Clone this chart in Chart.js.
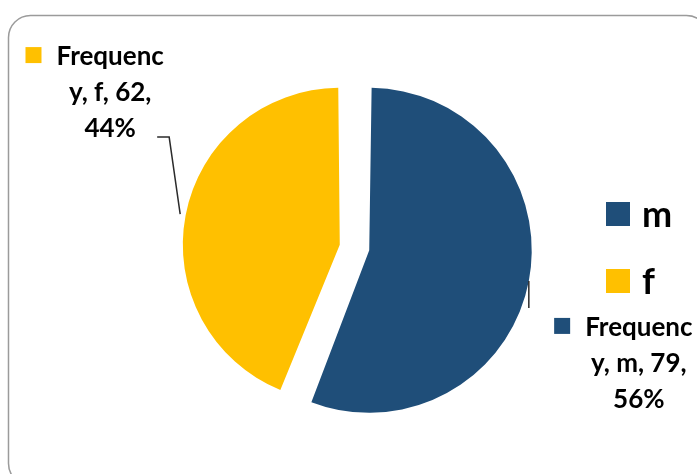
<!DOCTYPE html>
<html>
<head>
<meta charset="utf-8">
<script src="https://cdn.jsdelivr.net/npm/chart.js@4/dist/chart.umd.min.js"></script>
<style>
    body { margin: 0; background: #fff; }
    #box { position: relative; width: 697px; height: 474px; }
</style>
</head>
<body>
<div id="box"><canvas id="pieFreq"></canvas></div>
<script>
// dados do grafico de pizza
const categorias = ['m', 'f'];
const frequencias = [79, 62];
const cores = ['#1F4E79', '#FFC000'];
const nomeSerie = 'Frequency';

const fonte = "'Lato', 'Open Sans', sans-serif";
// o Chart.js desloca a fatia em offset / 4 px (e aumenta o raio no mesmo tanto)
const deslocamento = 60;

// quebra o texto como o Excel: por palavra e, se nao couber, por letra
function quebrarTexto(ctx, texto, maxW) {
    const linhas = [];
    let linha = '';
    for (const palavra of texto.split(' ')) {
        const teste = linha ? linha + ' ' + palavra : palavra;
        if (ctx.measureText(teste).width <= maxW) {
            linha = teste;
            continue;
        }
        if (linha) {
            linhas.push(linha);
            linha = '';
        }
        let resto = palavra;
        while (ctx.measureText(resto).width > maxW) {
            let i = resto.length;
            while (i > 1 && ctx.measureText(resto.slice(0, i)).width > maxW) i--;
            linhas.push(resto.slice(0, i));
            resto = resto.slice(i);
        }
        linha = resto;
    }
    if (linha) linhas.push(linha);
    return linhas;
}

// moldura arredondada em volta do grafico
const moldura = {
    id: 'moldura',
    beforeDraw(chart) {
        const ctx = chart.ctx;
        ctx.save();
        ctx.strokeStyle = '#9b9b9b';
        ctx.lineWidth = 1.5;
        ctx.beginPath();
        ctx.roundRect(8.5, 15.5, 700, 470, 22);
        ctx.stroke();
        ctx.restore();
    }
};

// legenda a direita (quadrado grande + nome)
const legendaDireita = {
    id: 'legendaDireita',
    afterDraw(chart, args, opts) {
        const ctx = chart.ctx;
        const ds = chart.data.datasets[0];
        ctx.save();
        ctx.font = 'bold ' + opts.fontSize + 'px ' + fonte;
        ctx.textBaseline = 'middle';
        chart.data.labels.forEach((lab, i) => {
            const y = opts.y + i * opts.step;
            ctx.fillStyle = ds.backgroundColor[i];
            ctx.fillRect(opts.x, y - opts.box / 2, opts.box, opts.box);
            ctx.fillStyle = '#000';
            ctx.fillText(lab, opts.x + opts.box + 12, y + 1);
        });
        ctx.restore();
    }
};

// rotulos de dados com linha guia, ancorados no meio do arco
const rotulos = {
    id: 'rotulos',
    afterDatasetsDraw(chart, args, opts) {
        const ctx = chart.ctx;
        const meta = chart.getDatasetMeta(0);
        const ds = chart.data.datasets[0];
        const total = ds.data.reduce((a, b) => a + b, 0);
        ctx.save();
        ctx.font = 'bold ' + opts.fontSize + 'px ' + fonte;
        meta.data.forEach((arc, i) => {
            const p = arc.getProps(['x', 'y', 'startAngle', 'endAngle', 'outerRadius'], true);
            const meio = (p.startAngle + p.endAngle) / 2;
            // borda de fora da fatia: deslocamento + raio extra
            const r = p.outerRadius + (arc.options.offset || 0) / 2;
            const ax = p.x + Math.cos(meio) * r;
            const ay = p.y + Math.sin(meio) * r;
            const pos = opts.posicoes[i];

            // linha guia
            ctx.strokeStyle = '#2b2b2b';
            ctx.lineWidth = 1.5;
            ctx.beginPath();
            ctx.moveTo(ax, ay);
            ctx.lineTo(ax + pos.cotovelo[0], ay + pos.cotovelo[1]);
            if (pos.fim) ctx.lineTo(ax + pos.fim[0], ay + pos.fim[1]);
            ctx.stroke();

            // texto
            const valor = ds.data[i];
            const pct = Math.round(valor / total * 100);
            const texto = ds.label + ', ' + chart.data.labels[i] + ', ' + valor + ', ' + pct + '%';
            const linhas = quebrarTexto(ctx, texto, opts.larguraMax);
            const cx = ax + pos.texto[0];
            const y0 = ay + pos.texto[1];
            ctx.textAlign = 'center';
            ctx.textBaseline = 'alphabetic';
            ctx.fillStyle = '#000';
            linhas.forEach((l, k) => {
                ctx.fillText(l, cx, y0 + k * opts.entreLinhas);
            });
            // chave da legenda antes da primeira linha
            const w0 = ctx.measureText(linhas[0]).width;
            ctx.fillStyle = ds.backgroundColor[i];
            ctx.fillRect(cx - w0 / 2 - 31, y0 - 18, 16, 16);
        });
        ctx.restore();
    }
};

const dadosPie = {
    labels: categorias,
    datasets: [{
        label: nomeSerie,
        data: frequencias,
        backgroundColor: cores,
        borderWidth: 0,
        offset: deslocamento
    }]
};

const configPie = {
    type: 'pie',
    data: dadosPie,
    options: {
        responsive: true,
        maintainAspectRatio: false,
        animation: false,
        layout: {
            padding: { left: 177, right: 165, top: 70, bottom: 49 }
        },
        plugins: {
            legend: { display: false },
            tooltip: { enabled: false },
            legendaDireita: { x: 606, y: 214, step: 67, box: 24, fontSize: 36 },
            rotulos: {
                fontSize: 26,
                entreLinhas: 36,
                larguraMax: 116,
                posicoes: [
                    { cotovelo: [0, 27], texto: [110, 55] },
                    { cotovelo: [-11, -77], fim: [-23, -77], texto: [-70, -149] }
                ]
            }
        }
    },
    plugins: [moldura, legendaDireita, rotulos]
};

new Chart(document.getElementById('pieFreq').getContext('2d'), configPie);
</script>
</body>
</html>
